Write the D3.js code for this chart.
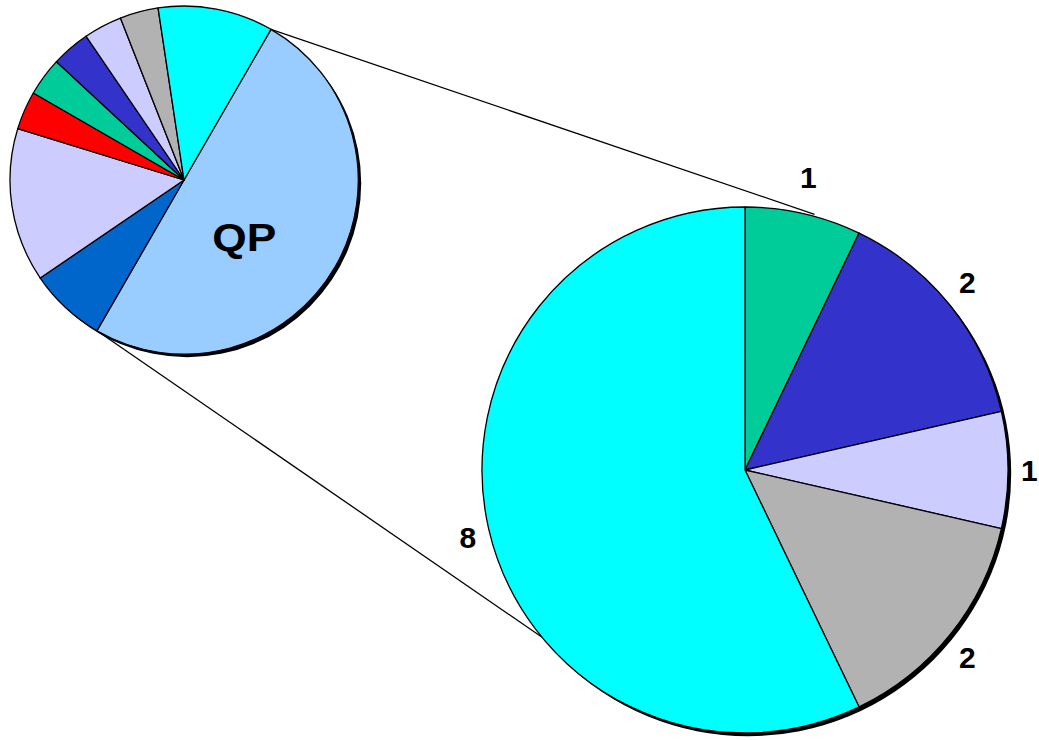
<!DOCTYPE html>
<html>
<head>
<meta charset="utf-8">
<script src="https://cdn.jsdelivr.net/npm/d3@7"></script>
<style>
  html, body { margin: 0; padding: 0; background: #fff; }
  svg { display: block; }
</style>
</head>
<body>
<div id="chartArea"></div>
<script>
// pie-of-pie: the QP slice of the main pie is broken down in the second pie

// main pie, clockwise from the start of QP
const mainLabels = ["QP", "", "", "", "", "", "", "", ""];
const mainValues = [14, 2, 4, 1, 1, 1, 1, 1, 3];
const mainColors = ["#99CCFF", "#0066CC", "#CCCCFF", "#FF0000", "#00CC99", "#3333CC", "#CCCCFF", "#B2B2B2", "#00FFFF"];

// secondary pie, clockwise from 12 o'clock
const subValues = [1, 2, 1, 2, 8];
const subLabels = ["1", "2", "1", "2", "8"];
const subColors = ["#00CC99", "#3333CC", "#CCCCFF", "#B2B2B2", "#00FFFF"];

const width = 1039;
const height = 740;
const deg = Math.PI / 180;

const svg = d3.select("#chartArea")
  .append("svg")
  .attr("width", width)
  .attr("height", height);

// geometry
const main = { cx: 184, cy: 180, r: 174, start: 30 * deg };
const sub = { cx: 745, cy: 470, r: 263 };
const shadow = 3.2;

const mainArcs = d3.pie().sort(null).value((d) => d)
  .startAngle(main.start).endAngle(main.start + 2 * Math.PI)(mainValues);
const subArcs = d3.pie().sort(null).value((d) => d)(subValues);

const mainArc = d3.arc().innerRadius(0).outerRadius(main.r);
const subArc = d3.arc().innerRadius(0).outerRadius(sub.r);

function polar(c, r, a) {
  return [c.cx + r * Math.sin(a), c.cy - r * Math.cos(a)];
}

// connector lines from the ends of QP to the second pie
const qp = mainArcs[0];
const links = [
  [polar(main, main.r, qp.startAngle), polar(sub, sub.r + 2, 15.2 * deg)],
  [polar(main, main.r, qp.endAngle), polar(sub, sub.r, 230.5 * deg)]
];
svg.append("g")
  .selectAll("line")
  .data(links)
  .join("line")
  .attr("x1", (d) => d[0][0])
  .attr("y1", (d) => d[0][1])
  .attr("x2", (d) => d[1][0])
  .attr("y2", (d) => d[1][1])
  .attr("stroke", "#000")
  .attr("stroke-width", 1.3);

// main pie
const gMain = svg.append("g").attr("transform", `translate(${main.cx},${main.cy})`);
gMain.append("circle")
  .attr("cx", shadow).attr("cy", shadow).attr("r", main.r)
  .attr("fill", "#000");
gMain.selectAll("path")
  .data(mainArcs)
  .join("path")
  .attr("d", mainArc)
  .attr("fill", (d, i) => mainColors[i])
  .attr("stroke", "#000")
  .attr("stroke-width", 1.3)
  .attr("stroke-linejoin", "round");

// QP label
gMain.selectAll("text")
  .data(mainArcs.filter((d, i) => mainLabels[i]))
  .join("text")
  .attr("x", (d) => 83 * Math.sin((d.startAngle + d.endAngle) / 2 + 13.5 * deg))
  .attr("y", (d) => -83 * Math.cos((d.startAngle + d.endAngle) / 2 + 13.5 * deg) + 13.5)
  .attr("text-anchor", "middle")
  .attr("font-family", "Liberation Sans, Arial, sans-serif")
  .attr("font-weight", "bold")
  .attr("font-size", 38)
  .attr("textLength", 64)
  .attr("lengthAdjust", "spacingAndGlyphs")
  .text((d) => mainLabels[d.index]);

// secondary pie
const gSub = svg.append("g").attr("transform", `translate(${sub.cx},${sub.cy})`);
gSub.append("circle")
  .attr("cx", shadow).attr("cy", shadow).attr("r", sub.r)
  .attr("fill", "#000");
gSub.selectAll("path")
  .data(subArcs)
  .join("path")
  .attr("d", subArc)
  .attr("fill", (d, i) => subColors[i])
  .attr("stroke", "#000")
  .attr("stroke-width", 1.3)
  .attr("stroke-linejoin", "round");

// value labels outside the second pie
const fs = 30;
const gapX = 13;
const gapY = 21;
gSub.selectAll("text")
  .data(subArcs)
  .join("text")
  .attr("text-anchor", "middle")
  .attr("font-family", "Liberation Sans, Arial, sans-serif")
  .attr("font-weight", "bold")
  .attr("font-size", fs)
  .text((d, i) => subLabels[i])
  .each(function (d) {
    const a = (d.startAngle + d.endAngle) / 2;
    const ux = Math.sin(a);
    const uy = -Math.cos(a);
    const b = this.getBBox();
    const x = (sub.r + gapX + b.width / 2) * ux;
    const y = (sub.r + gapY + b.height / 2) * uy;
    d3.select(this).attr("x", x).attr("y", y + 0.36 * fs);
  });
</script>
</body>
</html>
